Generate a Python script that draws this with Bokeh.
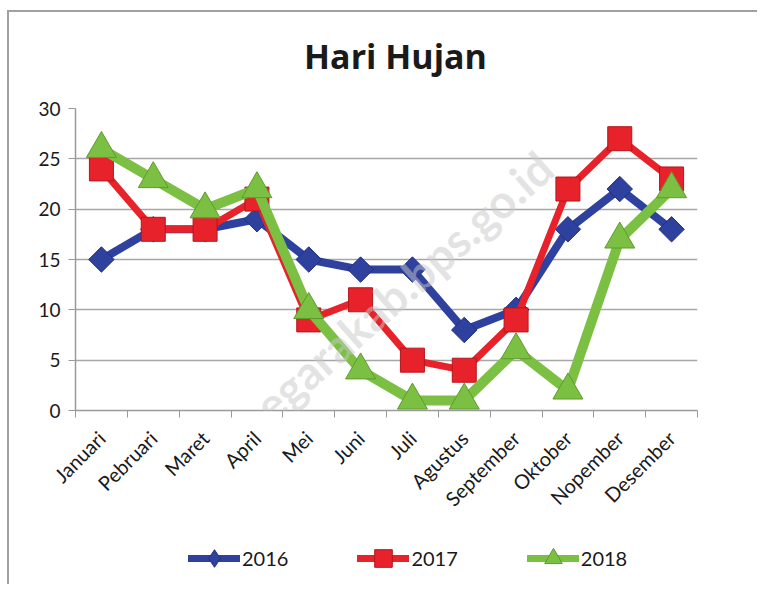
from math import pi
from bokeh.plotting import figure
from bokeh.layouts import column
from bokeh.models import (FixedTicker, Label, Legend, LegendItem, Range1d)
from bokeh.embed import file_html
from bokeh.resources import INLINE

title_text = "Hari Hujan"
months = ["Januari", "Pebruari", "Maret", "April", "Mei", "Juni", "Juli",
          "Agustus", "September", "Oktober", "Nopember", "Desember"]
y2016 = [15, 18, 18, 19, 15, 14, 14, 8, 10, 18, 22, 18]
y2017 = [24, 18, 18, 21, 9, 11, 5, 4, 9, 22, 27, 23]
y2018 = [26, 23, 20, 22, 10, 4, 1, 1, 6, 2, 17, 22]
yticks = [0, 5, 10, 15, 20, 25, 30]

xs = list(range(1, len(months) + 1))
FONT = "Lato"


def blank_strip(height):
    f = figure(width=748, height=height, output_backend="svg",
               toolbar_location=None, x_range=Range1d(-10, -9),
               y_range=Range1d(-10, -9), min_border_left=0, min_border_right=0,
               min_border_top=0, min_border_bottom=0, x_axis_location=None,
               y_axis_location=None)
    f.grid.visible = False
    f.outline_line_color = None
    f.background_fill_color = "white"
    f.border_fill_color = "white"
    return f


# title strip
pt = blank_strip(70)
pt.add_layout(Label(x=320, y=27, x_units="screen", y_units="screen",
                    text=title_text, text_font="Open Sans",
                    text_font_style="bold", text_font_size="34px",
                    text_align="center", text_baseline="alphabetic",
                    text_color="#1a1a1a"))

p = figure(width=748, height=448, output_backend="svg", toolbar_location=None,
           x_range=Range1d(0.5, len(months) + 0.5), y_range=Range1d(0, 30),
           min_border_left=66, min_border_right=60, min_border_top=26,
           min_border_bottom=120)
p.outline_line_color = None
p.background_fill_color = "white"
p.border_fill_color = "white"

# axes
p.xaxis.ticker = FixedTicker(ticks=xs, minor_ticks=[x - 0.5 for x in xs] + [len(xs) + 0.5])
p.xaxis.major_label_overrides = {x: m for x, m in zip(xs, months)}
p.xaxis.major_label_orientation = pi / 4
p.xaxis.major_tick_line_color = None
p.xaxis.minor_tick_line_color = "#9a9a9a"
p.xaxis.minor_tick_out = 7
p.xaxis.minor_tick_in = 0
p.xaxis.axis_line_color = "#9a9a9a"
p.xaxis.axis_line_width = 1.5
p.xaxis.major_label_text_font = FONT
p.xaxis.major_label_text_font_size = "20px"
p.xaxis.major_label_text_color = "#1a1a1a"
p.xaxis.major_label_standoff = 17

p.yaxis.ticker = FixedTicker(ticks=yticks)
p.yaxis.minor_tick_line_color = None
p.yaxis.major_tick_line_color = "#9a9a9a"
p.yaxis.major_tick_out = 7
p.yaxis.major_tick_in = 0
p.yaxis.axis_line_color = "#9a9a9a"
p.yaxis.axis_line_width = 1.5
p.yaxis.major_label_text_font = FONT
p.yaxis.major_label_text_font_size = "19px"
p.yaxis.major_label_text_color = "#1a1a1a"
p.yaxis.major_label_standoff = 8

p.xgrid.grid_line_color = None
p.ygrid.grid_line_color = "#a6a6a6"
p.ygrid.grid_line_width = 1.5

# watermark
p.add_layout(Label(x=470, y=250, x_units="screen", y_units="screen",
                   text="banjarnegarakab.bps.go.id", text_font=FONT,
                   text_font_style="bold", text_font_size="46px",
                   text_align="right", text_baseline="middle",
                   angle=41.5 * pi / 180, text_color="#c8c8c8",
                   text_alpha=0.5))

series = [
    ("2016", y2016, "#2E419E", "#22327e", 8, "square", 18, pi / 4, "diamond"),
    ("2017", y2017, "#E8222A", "#b5161c", 7, "square", 24, 0, "square"),
    ("2018", y2018, "#7CC043", "#5e9a2e", 10, "triangle", 30, 0, "triangle"),
]

# legend strip below the chart (its glyphs lie outside its own ranges)
p2 = blank_strip(54)

items = []
for name, ys, col, edge, lw, mk, sz, ang, lmk in series:
    p.line(xs, ys, line_color=col, line_width=lw, line_join="round",
           line_cap="round")
    p.scatter(xs, ys, marker=mk, size=sz, angle=ang, fill_color=col,
              line_color=edge, line_width=1)
    l1 = p2.line(xs, ys, line_color=col, line_width=7, line_cap="round")
    l2 = p2.scatter(xs, ys, marker=lmk, size=18, fill_color=col,
                    line_color=edge, line_width=1)
    items.append(LegendItem(label=name, renderers=[l1, l2]))

legend = Legend(items=items, orientation="horizontal", location=(113, 4),
                label_text_font=FONT, label_text_font_size="20px",
                label_text_color="#1a1a1a", glyph_width=52, glyph_height=44,
                spacing=69, label_standoff=2, background_fill_alpha=0,
                border_line_color=None, padding=0, margin=0)
p2.add_layout(legend, "center")

layout = column(pt, p, p2, spacing=0, margin=(10, 0, 0, 7),
                styles={"border-top": "2px solid #a0a0a0",
                        "border-left": "2px solid #a0a0a0"})
open("out.html", "w").write(file_html(layout, INLINE))
